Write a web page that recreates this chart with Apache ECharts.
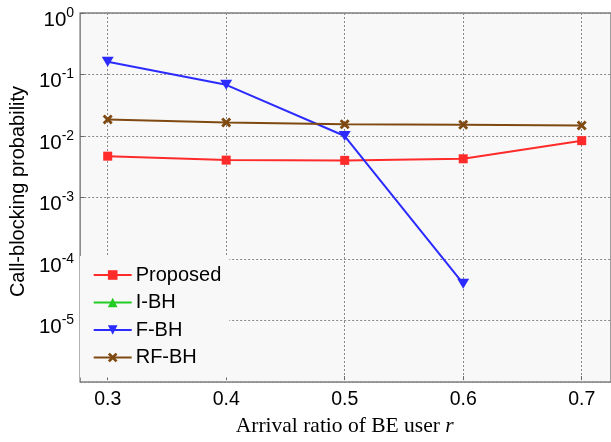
<!DOCTYPE html>
<html>
<head>
<meta charset="utf-8">
<script src="https://cdn.jsdelivr.net/npm/echarts@6/dist/echarts.min.js"></script>
<style>
html,body{margin:0;padding:0;background:#fff;}
#c{width:611px;height:442px;}
</style>
</head>
<body>
<div id="c"></div>
<script>
const xValues = [0.3, 0.4, 0.5, 0.6, 0.7];
const seriesNames = ['Proposed', 'I-BH', 'F-BH', 'RF-BH'];
const proposed = [0.00457, 0.00394, 0.00390, 0.00414, 0.0082];
const iBH = [];
const fBH = [0.16, 0.067, 0.00975, 0.0000377];
const rfBH = [0.01816, 0.01625, 0.01525, 0.0149, 0.01453];
const xTickLabels = ['0.3', '0.4', '0.5', '0.6', '0.7'];

function pairs(vals) { return vals.map((v, i) => [xValues[i], v]); }

const chart = echarts.init(document.getElementById('c'), null, {renderer: 'canvas'});
const axisGray = '#808080';
const gridDash = {color: '#888888', width: 1, type: [2, 2]};
const xPath = 'path://M0,2 L2,0 L5,3 L8,0 L10,2 L7,5 L10,8 L8,10 L5,7 L2,10 L0,8 L3,5 Z';
const triDown = 'path://M0,0 L10,0 L5,9 Z';
const triUp = 'path://M5,0 L10,9 L0,9 Z';
const yMin = 1e-6, yMax = 1;

chart.setOption({
  animation: false,
  backgroundColor: '#ffffff',
  grid: [
    {left: 78, top: 13, right: 0, bottom: 60, show: true, backgroundColor: '#f8f8f8', borderColor: axisGray, borderWidth: 1.5},
    {left: 107.7, top: 13, right: 29.3, bottom: 60, show: false}
  ],
  legend: {
    data: seriesNames,
    orient: 'vertical',
    left: 80, top: 256,
    padding: [9, 8, 10, 12.7],
    backgroundColor: '#f8f8f8',
    itemWidth: 38, itemHeight: 12, itemGap: 7.5,
    textStyle: {fontFamily: 'Liberation Sans', fontSize: 20, color: '#000', padding: [0, 0, 0, -1]}
  },
  xAxis: [
    {gridIndex: 0, type: 'value', min: 0, max: 1, show: false},
    {
      gridIndex: 1, type: 'value', min: 0.3, max: 0.7, interval: 0.1,
      name: 'Arrival ratio of BE user {i|r}', nameLocation: 'middle', nameGap: 34,
      nameTextStyle: {fontFamily: 'Liberation Serif', fontSize: 21.5, color: '#000', rich: {i: {fontFamily: 'Liberation Serif', fontStyle: 'italic', fontSize: 21.5, color: '#000'}}},
      axisLine: {show: false},
      axisTick: {show: true, inside: true, length: 4, lineStyle: {color: '#666'}},
      axisLabel: {fontFamily: 'Liberation Sans', fontSize: 19.5, color: '#000', margin: 10,
        formatter: v => { const i = xValues.findIndex(x => Math.abs(x - v) < 1e-6); return i >= 0 ? xTickLabels[i] : ''; }},
      splitLine: {show: true, lineStyle: gridDash}
    }
  ],
  yAxis: [
    {
      gridIndex: 0, type: 'log', logBase: 10, min: yMin, max: yMax,
      name: 'Call-blocking probability', nameLocation: 'middle', nameGap: 50, nameRotate: 90,
      nameTextStyle: {fontFamily: 'Liberation Sans', fontSize: 20, color: '#000', padding: [0, 0, 0, 12]},
      axisLine: {show: false},
      axisTick: {show: true, inside: true, length: 4, lineStyle: {color: '#666'}},
      axisLabel: {
        showMinLabel: false, margin: 6,
        formatter: v => '{b|10}{e|' + Math.round(Math.log10(v)) + '}',
        rich: {
          b: {fontFamily: 'Liberation Sans', fontSize: 20.5, color: '#000', padding: [14, 0, 0, 0]},
          e: {fontFamily: 'Liberation Sans', fontSize: 14, color: '#000', padding: [0, 0, 0, 0]}
        }
      },
      splitLine: {show: true, lineStyle: gridDash}
    },
    {gridIndex: 1, type: 'log', logBase: 10, min: yMin, max: yMax, show: false, splitLine: {show: false}}
  ],
  series: [
    {name: 'Proposed', type: 'line', xAxisIndex: 1, yAxisIndex: 1, data: pairs(proposed), color: '#ff2b2b', symbol: 'rect', symbolSize: 9,
     lineStyle: {width: 2}, itemStyle: {color: '#ff2b2b'}},
    {name: 'I-BH', type: 'line', xAxisIndex: 1, yAxisIndex: 1, data: pairs(iBH), color: '#22cc22', symbol: triUp, symbolSize: [11, 10],
     lineStyle: {width: 2}, itemStyle: {color: '#22cc22'}},
    {name: 'F-BH', type: 'line', xAxisIndex: 1, yAxisIndex: 1, data: pairs(fBH), color: '#2b2bff', symbol: triDown, symbolSize: [12, 10],
     lineStyle: {width: 2}, itemStyle: {color: '#2b2bff'}},
    {name: 'RF-BH', type: 'line', xAxisIndex: 1, yAxisIndex: 1, data: pairs(rfBH), color: '#7f4a12', symbol: xPath, symbolSize: 10,
     lineStyle: {width: 2}, itemStyle: {color: '#7f4a12'}}
  ]
});
</script>
</body>
</html>
